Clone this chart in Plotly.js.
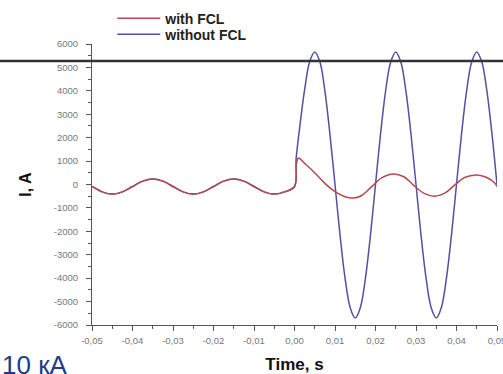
<!DOCTYPE html>
<html>
<head>
<meta charset="utf-8">
<script src="https://cdn.plot.ly/plotly-3.0.1.min.js"></script>
<style>
html,body{margin:0;padding:0;background:#fff;}
#chart{width:503px;height:374px;}
</style>
</head>
<body>
<div id="chart"></div>
<script>
// Data
var seriesNames = ["with FCL", "without FCL"];

var tWith = [-0.05,-0.0475,-0.045,-0.0425,-0.04,-0.0375,-0.035,-0.0325,-0.03,-0.0275,-0.025,-0.0225,-0.02,-0.0175,-0.015,-0.0125,-0.01,-0.0075,-0.005,-0.0025,0.0,
  0.0005,0.001,0.0025,0.005,0.0075,0.01,0.0125,0.0145,0.0165,0.019,0.0215,0.0245,0.027,0.0295,0.032,0.0345,0.037,0.0395,0.042,0.045,0.0475,0.0495,0.05];
var iWith = [-85,-315,-410,-315,-85,145,240,145,-85,-315,-410,-315,-85,145,240,145,-85,-315,-410,-315,-85,
  900,1130,900,500,50,-300,-520,-580,-480,-100,280,450,330,-50,-380,-500,-380,-30,300,410,300,50,-100];

var tWithout = [-0.05,-0.0475,-0.045,-0.0425,-0.04,-0.0375,-0.035,-0.0325,-0.03,-0.0275,-0.025,-0.0225,-0.02,-0.0175,-0.015,-0.0125,-0.01,-0.0075,-0.005,-0.0025,0.0,
  0.0004,0.00125,0.0025,0.00375,0.005,0.00625,0.0075,0.00875,0.01,0.01125,0.0125,0.01375,0.015,0.01625,0.0175,0.01875,0.02,
  0.02125,0.0225,0.02375,0.025,0.02625,0.0275,0.02875,0.03,0.03125,0.0325,0.03375,0.035,0.03625,0.0375,0.03875,0.04,
  0.04125,0.0425,0.04375,0.045,0.04625,0.0475,0.04875,0.05];
var iWithout = [-85,-315,-410,-315,-85,145,240,145,-85,-315,-410,-315,-85,145,240,145,-85,-315,-410,-315,-85,
  1100,2400,4050,5250,5660,5250,4000,2150,0,-2170,-4020,-5260,-5700,-5260,-4020,-2170,0,
  2170,4000,5230,5660,5230,4000,2170,0,-2170,-4020,-5260,-5700,-5260,-4020,-2170,0,
  2170,4000,5230,5660,5230,4000,2170,0];

var xTickVals = [-0.05,-0.04,-0.03,-0.02,-0.01,0.0,0.01,0.02,0.03,0.04,0.05];
var xTickText = ["-0,05","-0,04","-0,03","-0,02","-0,01","0,00","0,01","0,02","0,03","0,04","0,05"];
var yTickVals = [6000,5000,4000,3000,2000,1000,0,-1000,-2000,-3000,-4000,-5000,-6000];
var yTickText = ["6000","5000","4000","3000","2000","1000","0","-1000","-2000","-3000","-4000","-5000","-6000"];

var xTitle = "Time, s";
var yTitle = "I, A";
var noteText = "10 кА";

var traces = [
  {x: tWithout, y: iWithout, name: seriesNames[1], type: "scatter", mode: "lines",
   line: {color: "#5151a2", width: 1.5, shape: "spline", smoothing: 1}, legend: "legend2"},
  {x: tWith, y: iWith, name: seriesNames[0], type: "scatter", mode: "lines",
   line: {color: "#b44a4e", width: 1.5, shape: "spline", smoothing: 1}, legend: "legend"}
];

var fam = "Liberation Sans, Arial, sans-serif";
var tickFont = {family: fam, size: 9.5, color: "#777"};
var legFont = {family: fam, size: 14, color: "#222", weight: "bold"};

var layout = {
  width: 503, height: 374,
  margin: {l: 92, r: 6, t: 44, b: 49, autoexpand: false},
  paper_bgcolor: "#fff", plot_bgcolor: "#fff",
  showlegend: true,
  legend: {x: 0.05, y: 1.147, xanchor: "left", yanchor: "top", bgcolor: "rgba(0,0,0,0)",
    font: legFont, itemwidth: 43},
  legend2: {x: 0.05, y: 1.090, xanchor: "left", yanchor: "top", bgcolor: "rgba(0,0,0,0)",
    font: legFont, itemwidth: 43},
  xaxis: {range: [-0.05, 0.05], tickvals: xTickVals, ticktext: xTickText, tickfont: tickFont,
    showgrid: false, zeroline: false, showline: true, linecolor: "#555", linewidth: 1,
    ticks: "outside", ticklen: 5, tickcolor: "#555", ticklabelstandoff: 2, ticklabeloverflow: "allow",
    minor: {ticks: "outside", ticklen: 3, dtick: 0.005, tickcolor: "#555", showgrid: false},
    title: {text: xTitle, standoff: 12, font: {family: fam, size: 17, color: "#111", weight: "bold"}}},
  yaxis: {range: [-6000, 6000], tickvals: yTickVals, ticktext: yTickText, tickfont: tickFont,
    showgrid: false, zeroline: false, showline: true, linecolor: "#555", linewidth: 1,
    ticks: "outside", ticklen: 5, tickcolor: "#555", ticklabelstandoff: 6,
    minor: {ticks: "outside", ticklen: 3, dtick: 500, tickcolor: "#555", showgrid: false},
    title: {text: yTitle, standoff: 18, font: {family: fam, size: 16, color: "#111", weight: "bold"}}},
  shapes: [
    {type: "line", xref: "paper", yref: "paper", x0: -0.25, x1: 1.05, y0: 0.9395, y1: 0.9395,
     line: {color: "#333", width: 2.5}}
  ],
  annotations: [
    {text: noteText, xref: "paper", yref: "paper", x: -0.227, y: -0.082, xanchor: "left", yanchor: "top",
     showarrow: false, font: {family: fam, size: 26, color: "#1f3c8c"}}
  ]
};

Plotly.newPlot("chart", traces, layout, {displayModeBar: false, staticPlot: true});
</script>
</body>
</html>
